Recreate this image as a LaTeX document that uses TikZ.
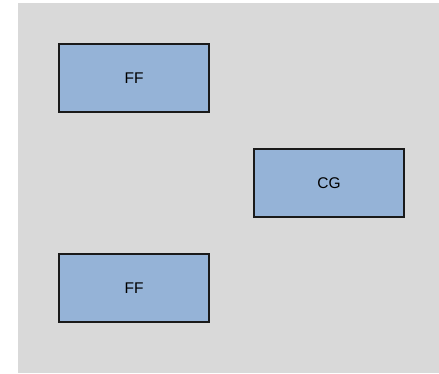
\documentclass[tikz,border=0pt]{standalone}
\usepackage{fontspec}
\setmainfont{Liberation Sans}
\definecolor{bggray}{HTML}{D9D9D9}
\definecolor{boxblue}{HTML}{95B3D7}
\definecolor{boxline}{HTML}{1A1A1A}
\begin{document}
\begin{tikzpicture}[x=1pt,y=-1pt,
  blk/.style={draw=boxline,line width=2pt,fill=boxblue,minimum width=150pt,minimum height=68pt,inner sep=0pt,font=\fontsize{15.5}{18}\selectfont}]
\useasboundingbox (0,0) rectangle (439,373);
\fill[white] (0,0) rectangle (439,373);
\fill[bggray] (18,3) rectangle (439,373);
\node[blk] (ff1) at (134,78) {FF};
\node[blk] (cg) at (329,183) {CG};
\node[blk] (ff2) at (134,288) {FF};
\end{tikzpicture}
\end{document}
